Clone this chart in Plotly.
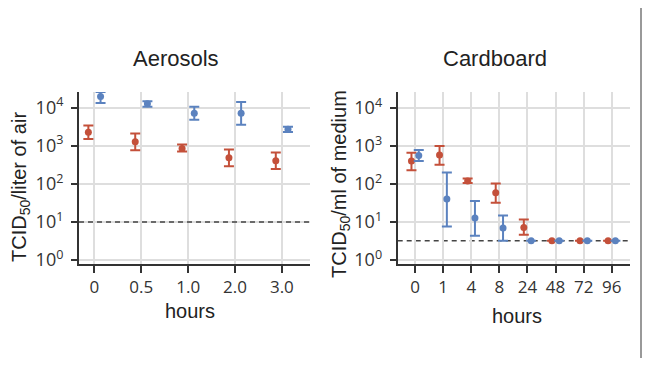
import plotly.graph_objects as go

# ---------------- data ----------------
aer_labels = ["0", "0.5", "1.0", "2.0", "3.0"]
aer_red = [2240, 1270, 850, 480, 400]
aer_red_hi = [3390, 2090, 1070, 790, 660]
aer_red_lo = [1510, 760, 710, 290, 245]
aer_blue = [19500, 12600, 7080, 7080, 2690]
aer_blue_hi = [25700, 14800, 10500, 14100, 3160]
aer_blue_lo = [13200, 10500, 4790, 3550, 2290]
aer_limit = 10

card_labels = ["0", "1", "4", "8", "24", "48", "72", "96"]
card_red = [400, 575, 120, 58, 7.1, 3.16, 3.16, 3.16]
card_red_hi = [660, 1000, 138, 102, 11.5, 3.16, 3.16, 3.16]
card_red_lo = [230, 320, 105, 32, 4.6, 3.16, 3.16, 3.16]
card_blue = [560, 40, 12.6, 6.9, 3.16, 3.16, 3.16, 3.16]
card_blue_hi = [780, 200, 35.5, 14.8, 3.16, 3.16, 3.16, 3.16]
card_blue_lo = [400, 7.6, 4.3, 3.16, 3.16, 3.16, 3.16, 3.16]
card_limit = 3.16

y_tickvals = [1, 10, 100, 1000, 10000]
y_ticktext = ["10<sup>0</sup>", "10<sup>1</sup>", "10<sup>2</sup>", "10<sup>3</sup>", "10<sup>4</sup>"]

RED = "#c4503a"
BLUE = "#5b82bf"
OFFSET = 0.13

# page body has an 8px margin; figure is sized to fit inside the 650x366 window
BODY = 8
W, H = 650 - 2 * BODY, 366 - 2 * BODY


def px(x):
    return (x - BODY) / W


def py(y):
    return (H - (y - BODY)) / H


def trace(labels, vals, hi, lo, color, off, xa, ya):
    xs = [i + off for i in range(len(labels))]
    return go.Scatter(
        x=xs, y=vals, xaxis=xa, yaxis=ya, mode="markers",
        marker=dict(color=color, size=7),
        error_y=dict(type="data", symmetric=False,
                     array=[h - v for h, v in zip(hi, vals)],
                     arrayminus=[v - l for v, l in zip(vals, lo)],
                     color=color, thickness=2, width=5),
        showlegend=False, cliponaxis=False,
    )


fig = go.Figure()
fig.add_trace(trace(aer_labels, aer_red, aer_red_hi, aer_red_lo, RED, -OFFSET, "x", "y"))
fig.add_trace(trace(aer_labels, aer_blue, aer_blue_hi, aer_blue_lo, BLUE, OFFSET, "x", "y"))
fig.add_trace(trace(card_labels, card_red, card_red_hi, card_red_lo, RED, -OFFSET, "x2", "y2"))
fig.add_trace(trace(card_labels, card_blue, card_blue_hi, card_blue_lo, BLUE, OFFSET, "x2", "y2"))

common_axis = dict(showline=True, linecolor="#333", linewidth=2, ticks="outside",
                   tickcolor="#333", tickwidth=1.5, showgrid=True, gridcolor="#dedede",
                   gridwidth=1.5, zeroline=False)
xfont = dict(family="Open Sans", size=17, color="#333")
yfont = dict(family="Open Sans", size=18, color="#333")

ydom = [py(264), py(92)]

fig.update_layout(
    width=W, height=H, margin=dict(l=0, r=0, t=0, b=0, autoexpand=False),
    paper_bgcolor="white", plot_bgcolor="white",
    xaxis=dict(domain=[px(79), px(310)], range=[-0.33, 4.6], tickvals=list(range(len(aer_labels))),
               ticktext=aer_labels, anchor="y", ticklen=7, tickfont=xfont, **common_axis),
    yaxis=dict(domain=ydom, type="log", range=[-0.105, 4.41], tickvals=y_tickvals,
               ticktext=y_ticktext, anchor="x", ticklen=6, tickfont=yfont,
               ticklabelstandoff=4, **common_axis),
    xaxis2=dict(domain=[px(397.7), px(630)], range=[-0.62, 7.65], tickvals=list(range(len(card_labels))),
                ticktext=card_labels, anchor="y2", ticklen=7, tickfont=xfont, **common_axis),
    yaxis2=dict(domain=ydom, type="log", range=[-0.11, 4.42], tickvals=y_tickvals,
                ticktext=y_ticktext, anchor="x2", ticklen=6, tickfont=yfont,
                ticklabelstandoff=4, **common_axis),
)

dash_line = dict(color="#444", width=1.5, dash="5px,4px")
fig.add_shape(type="line", xref="x", yref="y", x0=-0.33, x1=4.6, y0=aer_limit, y1=aer_limit,
              line=dash_line, layer="above")
fig.add_shape(type="line", xref="x2", yref="y2", x0=-0.62, x1=7.65, y0=card_limit, y1=card_limit,
              line=dash_line, layer="below")
# right border of the picture
fig.add_shape(type="line", xref="paper", yref="paper", x0=px(641), x1=px(641), y0=0, y1=1,
              line=dict(color="#999999", width=2))

tfont = dict(family="Liberation Sans", size=22, color="#222")
afont = dict(family="Liberation Sans", size=20, color="#222")


def ann(text, x, y, font, angle=0):
    fig.add_annotation(text=text, xref="paper", yref="paper", x=px(x), y=py(y),
                       xanchor="center", yanchor="middle", showarrow=False, font=font,
                       textangle=angle)


ann("Aerosols", 176, 58, tfont)
ann("Cardboard", 495, 58, tfont)
ann("TCID<sub>50</sub>/liter of air", 20, 187, afont, -90)
ann("TCID<sub>50</sub>/ml of medium", 340, 184, afont, -90)
ann("hours", 190, 311, afont)
ann("hours", 517, 316, afont)

fig.write_html("out.html")
